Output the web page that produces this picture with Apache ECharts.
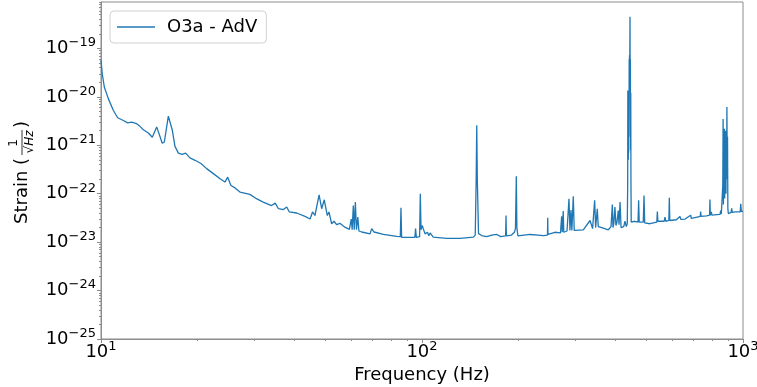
<!DOCTYPE html>
<html><head><meta charset="utf-8">
<script src="https://cdn.jsdelivr.net/npm/echarts@6/dist/echarts.min.js"></script>
<style>html,body{margin:0;padding:0;background:#fff}#c{width:757px;height:387px}</style>
</head><body><div id="c"></div>
<script>
const seriesName = 'O3a - AdV';
const freq = [10.0,10.09,10.24,10.54,10.92,11.27,11.74,12.11,12.46,12.91,13.23,13.55,14.04,14.45,14.91,15.52,15.75,16.21,16.68,17.0,17.42,17.9,18.35,18.93,19.63,20.49,21.34,22.39,23.49,24.33,24.81,25.4,26.15,27.1,29.1,30.5,32.0,34.0,34.9,35.7,37.0,37.9,38.6,40.7,41.2,43.2,44.8,45.6,46.4,47.8,48.7,49.6,50.7,51.3,52.3,53.2,54.2,55.5,57.5,59.4,59.9,60.2,60.6,61.1,61.5,62.0,62.5,63.1,63.6,64.9,68.9,69.7,70.9,75.8,83.4,85.6,86.0,86.4,90.0,95.0,95.5,96.0,98.3,98.8,99.3,100.2,100.9,102.2,104.0,105.0,106.0,108.4,119.4,131.3,144.5,146.5,147.5,148.1,148.7,150.0,153.5,159.1,165.0,170.9,176.0,182.2,182.7,183.2,190.0,194.0,195.5,196.7,197.5,199.0,217.0,230.0,238.8,246.0,246.4,246.8,259.4,270.0,272.3,273.5,275.4,276.5,283.0,287.0,289.0,291.2,293.0,296.0,298.0,318.0,333.8,340.0,345.0,347.5,351.6,354.0,363.0,380.5,388.0,391.7,393.5,396.0,399.0,402.0,405.0,408.8,411.0,414.0,417.0,425.0,429.0,433.0,436.0,437.3,437.8,438.3,438.8,439.3,439.8,440.3,440.8,441.3,442.0,442.5,443.0,443.5,444.0,444.6,445.2,445.8,446.4,447.0,447.7,448.5,453.0,460.0,471.0,473.0,475.0,489.0,491.6,494.0,513.0,525.6,539.0,541.0,543.0,568.0,571.5,575.0,587.5,589.5,591.5,620.0,636.4,640.0,660.0,687.0,690.0,720.0,736.0,738.0,740.0,770.0,787.0,789.0,791.0,797.0,800.0,828.0,848.0,852.0,856.0,862.0,865.0,867.0,869.0,871.0,873.0,875.0,877.0,879.0,881.0,883.0,885.0,887.0,889.0,891.0,893.0,895.0,897.0,900.0,918.0,922.0,926.0,944.0,980.0,984.0,988.0,1000.0];
const strain = [5.7e-20,3.0e-20,1.6e-20,9.2e-21,5.3e-21,3.7e-21,3.25e-21,2.9e-21,3.0e-21,2.8e-21,2.46e-21,2.1e-21,1.8e-21,1.47e-21,2.4e-21,1.1e-21,1.17e-21,4.0e-21,2.04e-21,9.5e-22,6.9e-22,6.5e-22,6.9e-22,5.5e-22,4.9e-22,4.2e-22,3.3e-22,2.6e-22,2.04e-22,1.74e-22,2.2e-22,1.48e-22,1.32e-22,1.08e-22,9.7e-23,7.9e-23,6.7e-23,5.7e-23,6.4e-23,4.9e-23,4.7e-23,5.3e-23,4.2e-23,4.0e-23,4.3e-23,3.4e-23,3.0e-23,4.2e-23,3.55e-23,9.5e-23,4.9e-23,7.5e-23,3.55e-23,4.2e-23,2.4e-23,2.7e-23,2.3e-23,2.45e-23,2.04e-23,1.83e-23,1.8e-23,3.0e-23,1.8e-23,5.7e-23,1.8e-23,6.7e-23,1.8e-23,3.3e-23,1.7e-23,1.62e-23,1.48e-23,1.9e-23,1.62e-23,1.44e-23,1.31e-23,1.3e-23,5.1e-23,1.25e-23,1.25e-23,1.25e-23,1.9e-23,1.25e-23,1.3e-23,1.0e-22,1.8e-23,2.2e-23,1.9e-23,1.48e-23,1.6e-23,1.35e-23,1.55e-23,1.27e-23,1.2e-23,1.2e-23,1.27e-23,1.4e-23,2.0e-22,2.6e-21,2.0e-22,1.5e-23,1.37e-23,1.3e-23,1.4e-23,1.44e-23,1.3e-23,1.35e-23,3.55e-23,1.35e-23,1.4e-23,1.6e-23,1.9e-23,2.3e-22,2.0e-23,1.35e-23,1.44e-23,1.4e-23,1.37e-23,1.4e-23,3.2e-23,1.44e-23,1.6e-23,1.55e-23,3.4e-23,1.6e-23,4.4e-23,1.6e-23,1.7e-23,7.9e-23,1.75e-23,4.6e-23,1.75e-23,8.9e-23,1.75e-23,1.8e-23,2.8e-23,1.9e-23,7.3e-23,2.0e-23,4.9e-23,2.1e-23,2.0e-23,1.8e-23,2.1e-23,6.0e-23,2.0e-23,2.5e-23,5.3e-23,2.2e-23,2.6e-23,4.5e-23,2.3e-23,6.7e-23,2.0e-23,2.1e-23,2.7e-23,2.1e-23,2.4e-23,1.6e-22,1.36e-20,8e-22,1.2e-20,5e-22,1.3e-20,7e-22,1.1e-20,1.5e-21,6e-20,1.5e-20,7.2e-20,1.4e-20,5e-20,4.5e-19,1.5e-20,6e-20,8e-22,1.2e-20,1.6e-22,2.6e-23,2.6e-23,2.7e-23,2.6e-23,7.3e-23,2.6e-23,2.6e-23,9.2e-23,2.5e-23,2.4e-23,2.5e-23,2.6e-23,4.3e-23,2.7e-23,2.7e-23,3.3e-23,2.7e-23,2.8e-23,8.3e-23,2.8e-23,2.9e-23,3.4e-23,2.95e-23,3.0e-23,3.6e-23,3.1e-23,3.3e-23,3.4e-23,4.3e-23,3.4e-23,3.5e-23,3.6e-23,7.6e-23,3.6e-23,4.2e-23,3.6e-23,3.7e-23,3.75e-23,4.5e-23,3.8e-23,3.9e-23,1.5e-22,3.5e-21,6e-23,2.2e-21,3e-22,2.2e-21,8e-23,2.0e-21,5e-22,1.8e-21,1e-22,2.0e-21,2e-22,6.2e-21,3e-22,1.5e-21,5e-23,3.9e-23,4.1e-23,5.0e-23,4.1e-23,4.2e-23,4.2e-23,6.2e-23,4.3e-23,4.3e-23];
const xMajor = [10, 100, 1000];
const yMajor = [1e-25, 1e-24, 1e-23, 1e-22, 1e-21, 1e-20, 1e-19];
const mantissas = [2, 3, 4, 5, 6, 7, 8, 9];
const xMin = 10, xMax = 1000, yMin = 1e-25, yMax = 9.1e-19;

function minorOf(majors, lo, hi) {
  const out = [];
  majors.forEach(m => mantissas.forEach(k => { const v = m * k; if (v > lo && v < hi) out.push(v); }));
  return out;
}
const xMinor = minorOf([10, 100], xMin, xMax);
const yMinor = minorOf(yMajor, yMin, yMax);

const gray = '#8c8c8c';
const FONT = 'DejaVu Sans';
const rich = {
  b: { fontSize: 18, fontFamily: FONT, color: '#000' },
  e: { fontSize: 13, fontFamily: FONT, color: '#000', padding: [0, 0, 11, 0] }
};
function powLabel(v) {
  const e = Math.round(Math.log10(v));
  return '{b|10}{e|' + (e < 0 ? '\u2212' : '') + Math.abs(e) + '}';
}

const G = { left: 101, right: 14, top: 2, bottom: 48 };
const plotW = 757 - G.left - G.right, plotH = 387 - G.top - G.bottom;

const chart = echarts.init(document.getElementById('c'), null, { renderer: 'canvas' });
chart.setOption({
  animation: false,
  backgroundColor: '#fff',
  grid: Object.assign({ show: true, borderColor: gray, borderWidth: 1, backgroundColor: 'transparent', containLabel: false, outerBoundsMode: 'none' }, G),
  legend: {
    data: [{ name: seriesName, icon: 'rect' }], left: 110, top: 11, orient: 'horizontal',
    padding: [7, 9, 7, 7], itemWidth: 38, itemHeight: 1.5, itemGap: 10,
    borderColor: '#d0d0d0', borderWidth: 1, borderRadius: 4, backgroundColor: 'rgba(255,255,255,0.8)',
    textStyle: { fontSize: 18, fontFamily: FONT, color: '#000', padding: [0, 0, 0, 7] }
  },
  xAxis: [{
    type: 'log', logBase: 10, min: xMin, max: xMax, position: 'bottom',
    name: 'Frequency (Hz)', nameLocation: 'middle', nameGap: 25,
    nameTextStyle: { fontSize: 18, fontFamily: FONT, color: '#000' },
    axisLine: { show: true, lineStyle: { color: gray } },
    axisTick: { show: true, length: 4, lineStyle: { color: gray }, customValues: xMajor },
    axisLabel: { customValues: xMajor, formatter: powLabel, rich: rich, margin: 1 },
    splitLine: { show: false }
  }, {
    type: 'log', logBase: 10, min: xMin, max: xMax, position: 'top', offset: -plotH,
    axisLine: { show: false },
    axisTick: { show: true, inside: true, length: 2, lineStyle: { color: gray }, customValues: xMinor },
    axisLabel: { show: false }, splitLine: { show: false }
  }],
  yAxis: [{
    type: 'log', logBase: 10, min: yMin, max: yMax, position: 'left',
    axisLine: { show: true, lineStyle: { color: gray } },
    axisTick: { show: true, length: 4, lineStyle: { color: gray }, customValues: yMajor },
    axisLabel: { customValues: yMajor, formatter: powLabel, rich: rich, margin: 5 },
    splitLine: { show: false }
  }, {
    type: 'log', logBase: 10, min: yMin, max: yMax, position: 'right', offset: -plotW,
    axisLine: { show: false },
    axisTick: { show: true, inside: true, length: 2, lineStyle: { color: gray }, customValues: yMinor },
    axisLabel: { show: false }, splitLine: { show: false }
  }],
  graphic: [{
    type: 'group', x: 22, y: 170, rotation: Math.PI / 2,
    children: [
      { type: 'text', x: -54, y: 0, style: { text: 'Strain (', font: '18px "DejaVu Sans"', fill: '#000', align: 'left', verticalAlign: 'middle' } },
      { type: 'text', x: 27, y: -8, style: { text: '1', font: '12px "DejaVu Sans"', fill: '#000', align: 'center', verticalAlign: 'middle' } },
      { type: 'line', shape: { x1: 15, y1: 0, x2: 40, y2: 0 }, style: { stroke: '#000', lineWidth: 0.8 } },
      { type: 'text', x: 28, y: 8, style: { text: '\u221AHz', font: 'italic 12px "DejaVu Sans"', fill: '#000', align: 'center', verticalAlign: 'middle' } },
      { type: 'text', x: 42, y: 0, style: { text: ')', font: '18px "DejaVu Sans"', fill: '#000', align: 'left', verticalAlign: 'middle' } }
    ]
  }],
  series: [{
    name: seriesName, type: 'line', xAxisIndex: 0, yAxisIndex: 0,
    data: freq.map((f, i) => [f, strain[i]]),
    showSymbol: false, symbol: 'none',
    lineStyle: { color: '#1f77b4', width: 1.3 }, itemStyle: { color: '#1f77b4' },
    clip: true
  }]
});
</script></body></html>
